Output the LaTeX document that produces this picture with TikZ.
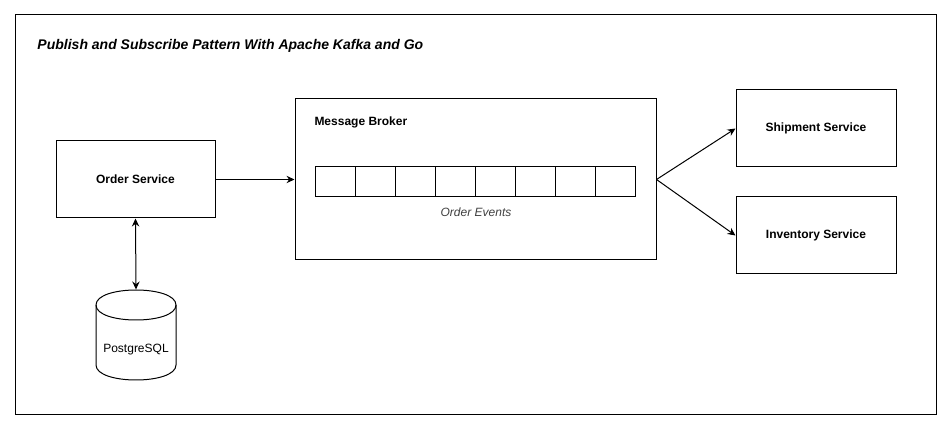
\documentclass[tikz,border=0pt]{standalone}
\usepackage{fontspec}
\setmainfont{Liberation Sans}
\usetikzlibrary{arrows.meta}
\begin{document}
\begin{tikzpicture}[x=0.75pt,y=-0.75pt,
  line width=0.75pt,
  box/.style={draw=black, fill=white, rectangle, inner sep=0pt, minimum width=120pt, minimum height=57.75pt, font=\fontsize{9pt}{11pt}\selectfont\bfseries},
  cell/.style={draw=black, fill=white, rectangle, inner sep=0pt, minimum width=30pt, minimum height=22.5pt},
  arr/.style={-{Stealth[length=6pt,width=5.5pt,inset=2pt]}},
  darr/.style={{Stealth[length=6pt,width=5.5pt,inset=2pt]}-{Stealth[length=6pt,width=5.5pt,inset=2pt]}}
]
\useasboundingbox (0,0) rectangle (951,431);
\fill[white] (0,0) rectangle (951,431);
% outer frame
\draw (15,15) rectangle (936,415);
\node[anchor=west, font=\fontsize{10.5pt}{12pt}\selectfont\bfseries\itshape, inner sep=0pt] (title) at (37,46) {Publish and Subscribe Pattern With Apache Kafka and Go};

% nodes
\node[box, minimum width=119.25pt] (order) at (135.5,179.5) {Order Service};
\node[draw=black, fill=white, rectangle, inner sep=0pt, minimum width=270.75pt, minimum height=120.75pt] (broker) at (475.5,179.5) {};
\node[anchor=west, inner sep=0pt, font=\fontsize{9pt}{11pt}\selectfont\bfseries] (brokerlabel) at (314,122) {Message Broker};
\foreach \i in {0,...,7} {
  \node[cell] (c\i) at (335+40*\i,182) {};
}
\node[inner sep=0pt, font=\fontsize{9pt}{11pt}\selectfont\itshape, text=black!75] (events) at (476,212) {Order Events};
\node[box] (ship) at (816,128.5) {Shipment Service};
\node[box] (inv) at (816,235.5) {Inventory Service};

% database cylinder
\node[inner sep=0pt, minimum width=60pt, minimum height=67.5pt] (db) at (136,335) {};
\draw[fill=white] (96,305) .. controls (96,285) and (176,285) .. (176,305) -- (176,365) .. controls (176,385) and (96,385) .. (96,365) -- cycle;
\draw (96,305) .. controls (96,325) and (176,325) .. (176,305);
\node[inner sep=0pt, font=\fontsize{9pt}{11pt}\selectfont] (dbtext) at (136,350) {PostgreSQL};

% connectors
\draw[arr] (order.east) -- (broker.west);
\draw[darr] (order.south) -- (db.north);
\draw[arr] (broker.east) -- (ship.west);
\draw[arr] (broker.east) -- (inv.west);
\end{tikzpicture}
\end{document}
